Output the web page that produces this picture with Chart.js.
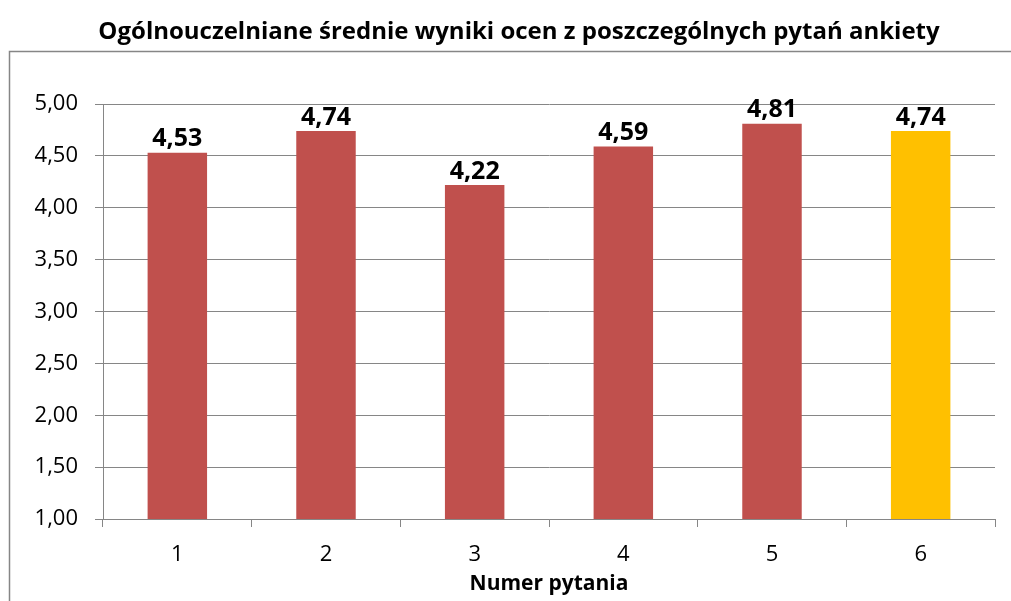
<!DOCTYPE html>
<html>
<head>
<meta charset="utf-8">
<script src="https://cdn.jsdelivr.net/npm/chart.js@4/dist/chart.umd.min.js"></script>
<style>
  html, body { margin: 0; padding: 0; background: #fff; }
  #wrap { width: 1011px; height: 601px; position: relative; }
</style>
</head>
<body>
<div id="wrap"><canvas id="c" width="1011" height="601"></canvas></div>
<script>
const chartTitle = 'Ogólnouczelniane średnie wyniki ocen z poszczególnych pytań ankiety';
const xAxisTitle = 'Numer pytania';
const categories = ['1', '2', '3', '4', '5', '6'];
const averages = [4.53, 4.74, 4.22, 4.59, 4.81, 4.74];
const yTickValues = [1.0, 1.5, 2.0, 2.5, 3.0, 3.5, 4.0, 4.5, 5.0];

const FONT = '"Open Sans", "Liberation Sans", sans-serif';
const GRID = '#868686';
const RED = '#C0504D';
const GOLD = '#FFC000';
const fmt = v => v.toFixed(2).replace('.', ',');

const framePlugin = {
  id: 'frame',
  beforeDraw(chart) {
    const c = chart.ctx;
    c.save();
    c.fillStyle = '#fff';
    c.fillRect(0, 0, chart.width, chart.height);
    c.strokeStyle = GRID;
    c.lineWidth = 1.5;
    c.beginPath();
    c.moveTo(9.5, chart.height + 5);
    c.lineTo(9.5, 51.5);
    c.lineTo(chart.width + 5, 51.5);
    c.stroke();
    c.fillStyle = '#000';
    c.font = 'bold 24px ' + FONT;
    c.textAlign = 'center';
    c.textBaseline = 'middle';
    c.fillText(chartTitle, 519, 32);
    c.restore();
  },
  afterDatasetsDraw(chart) {
    const c = chart.ctx;
    const meta = chart.getDatasetMeta(0);
    c.save();
    c.fillStyle = '#000';
    c.font = 'bold 25px ' + FONT;
    c.textAlign = 'center';
    c.textBaseline = 'bottom';
    meta.data.forEach((bar, i) => {
      c.fillText(fmt(chart.data.datasets[0].data[i]), bar.x, bar.y - 1);
    });
    c.restore();
  }
};

new Chart(document.getElementById('c'), {
  type: 'bar',
  data: {
    labels: categories,
    datasets: [{
      data: averages,
      backgroundColor: ctx => ctx.dataIndex === averages.length - 1 ? GOLD : RED,
      borderWidth: 0,
      barPercentage: 0.4,
      categoryPercentage: 1.0
    }]
  },
  options: {
    responsive: false,
    animation: false,
    layout: { padding: { left: 0, right: 16, top: 104, bottom: 0 } },
    plugins: { legend: { display: false }, title: { display: false }, tooltip: { enabled: false } },
    scales: {
      x: {
        offset: true,
        grid: { display: true, offset: true, drawOnChartArea: false, drawTicks: true, tickLength: 8, color: GRID, lineWidth: 1 },
        border: { display: true, color: GRID, width: 1 },
        ticks: { color: '#000', font: { family: FONT, size: 22 }, padding: 15, maxRotation: 0 },
        title: { display: true, text: xAxisTitle, color: '#000', font: { family: FONT, size: 21, weight: 'bold' }, padding: { top: 0, bottom: 4 } },
        afterFit: s => { s.height = 82; }
      },
      y: {
        min: 1, max: 5,
        afterBuildTicks: s => { s.ticks = yTickValues.map(v => ({ value: v })); },
        grid: { color: GRID, lineWidth: 1, tickLength: 8, drawTicks: true },
        border: { display: true, color: GRID, width: 1 },
        ticks: { color: '#000', font: { family: FONT, size: 22 }, padding: 17, callback: v => fmt(v) },
        afterFit: s => { s.width = 103; }
      }
    }
  },
  plugins: [framePlugin]
});
</script>
</body>
</html>
